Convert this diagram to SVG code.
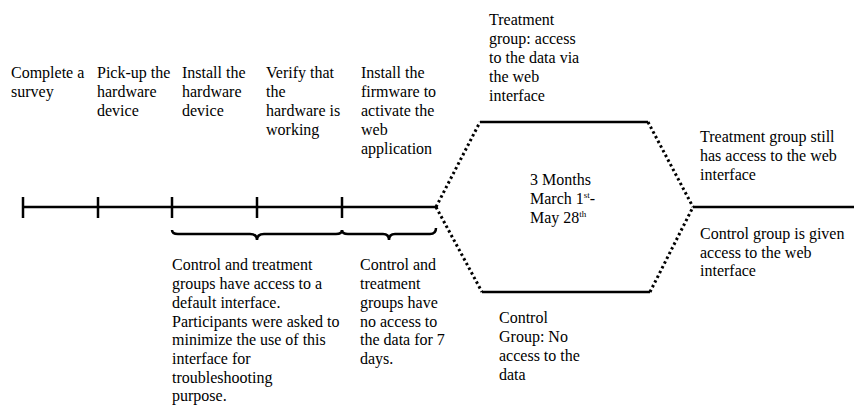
<svg xmlns="http://www.w3.org/2000/svg" width="854" height="406" viewBox="0 0 854 406">
<style>
text{font-family:"Liberation Serif",Tinos,"Times New Roman",Times,"DejaVu Serif","Noto Serif",serif;font-size:16px;fill:#000}
.ln{stroke:#000;stroke-width:2.5;fill:none}
.dot{stroke:#000;stroke-width:3;fill:none;stroke-dasharray:2.5 2.8}
.br{stroke:#000;stroke-width:2.5;fill:none}
</style>
<rect width="854" height="406" fill="#fff"/>
<g id="connectors">
<line class="ln" x1="23" y1="207" x2="436" y2="207"/>
<line class="ln" x1="23" y1="197" x2="23" y2="218"/>
<line class="ln" x1="98" y1="197" x2="98" y2="218"/>
<line class="ln" x1="172" y1="197" x2="172" y2="218"/>
<line class="ln" x1="257" y1="197" x2="257" y2="218"/>
<line class="ln" x1="342" y1="197" x2="342" y2="218"/>
<line class="ln" x1="480" y1="122" x2="648" y2="122"/>
<line class="ln" x1="482" y1="292" x2="650" y2="292"/>
<line class="ln" x1="693" y1="207" x2="854" y2="207"/>
<path class="dot" d="M436,207 L480,122"/>
<path class="dot" d="M436,207 L482,292"/>
<path class="dot" d="M648,122 L693,207"/>
<path class="dot" d="M650,292 L693,207"/>
<path class="br" d="M172,230 Q172,234 178,234 L250,234 Q257,234 257,240 Q257,234 264,234 L336,234 Q342,234 342,230"/>
<path class="br" d="M342,230 Q342,234 348,234 L383,234 Q389,234 389,240 Q389,234 395,234 L430,234 Q436,234 436,228"/>
</g>
<g id="step1"><text x="11" y="78">Complete a</text><text x="11" y="97">survey</text></g>
<g id="step2"><text x="97" y="78">Pick-up the</text><text x="97" y="97">hardware</text><text x="97" y="116">device</text></g>
<g id="step3"><text x="182" y="78">Install the</text><text x="182" y="97">hardware</text><text x="182" y="116">device</text></g>
<g id="step4"><text x="266" y="78">Verify that</text><text x="266" y="97">the</text><text x="266" y="116">hardware is</text><text x="266" y="135">working</text></g>
<g id="step5"><text x="361" y="78">Install the</text><text x="361" y="97">firmware to</text><text x="361" y="116">activate the</text><text x="361" y="135">web</text><text x="361" y="154">application</text></g>
<g id="treatment"><text x="489" y="25">Treatment</text><text x="489" y="44">group: access</text><text x="489" y="63">to the data via</text><text x="489" y="82">the web</text><text x="489" y="101">interface</text></g>
<g id="period"><text x="530" y="185">3 Months</text><text x="530" y="204">March 1<tspan font-size="9" dy="-6">st</tspan><tspan dy="6">-</tspan></text><text x="530" y="223">May 28<tspan font-size="9" dy="-6">th</tspan></text></g>
<g id="control"><text x="499" y="323">Control</text><text x="499" y="342">Group: No</text><text x="499" y="361">access to the</text><text x="499" y="380">data</text></g>
<g id="after-treatment"><text x="700" y="142">Treatment group still</text><text x="700" y="161">has access to the web</text><text x="700" y="180">interface</text></g>
<g id="after-control"><text x="700" y="239">Control group is given</text><text x="700" y="258">access to the web</text><text x="700" y="276">interface</text></g>
<g id="default-interface"><text x="172" y="270">Control and treatment</text><text x="172" y="289">groups have access to a</text><text x="172" y="308">default interface.</text><text x="172" y="327">Participants were asked to</text><text x="172" y="345">minimize the use of this</text><text x="172" y="364">interface for</text><text x="172" y="383">troubleshooting</text><text x="172" y="401">purpose.</text></g>
<g id="no-access"><text x="360" y="270">Control and</text><text x="360" y="289">treatment</text><text x="360" y="308">groups have</text><text x="360" y="327">no access to</text><text x="360" y="345">the data for 7</text><text x="360" y="364">days.</text></g>
</svg>
